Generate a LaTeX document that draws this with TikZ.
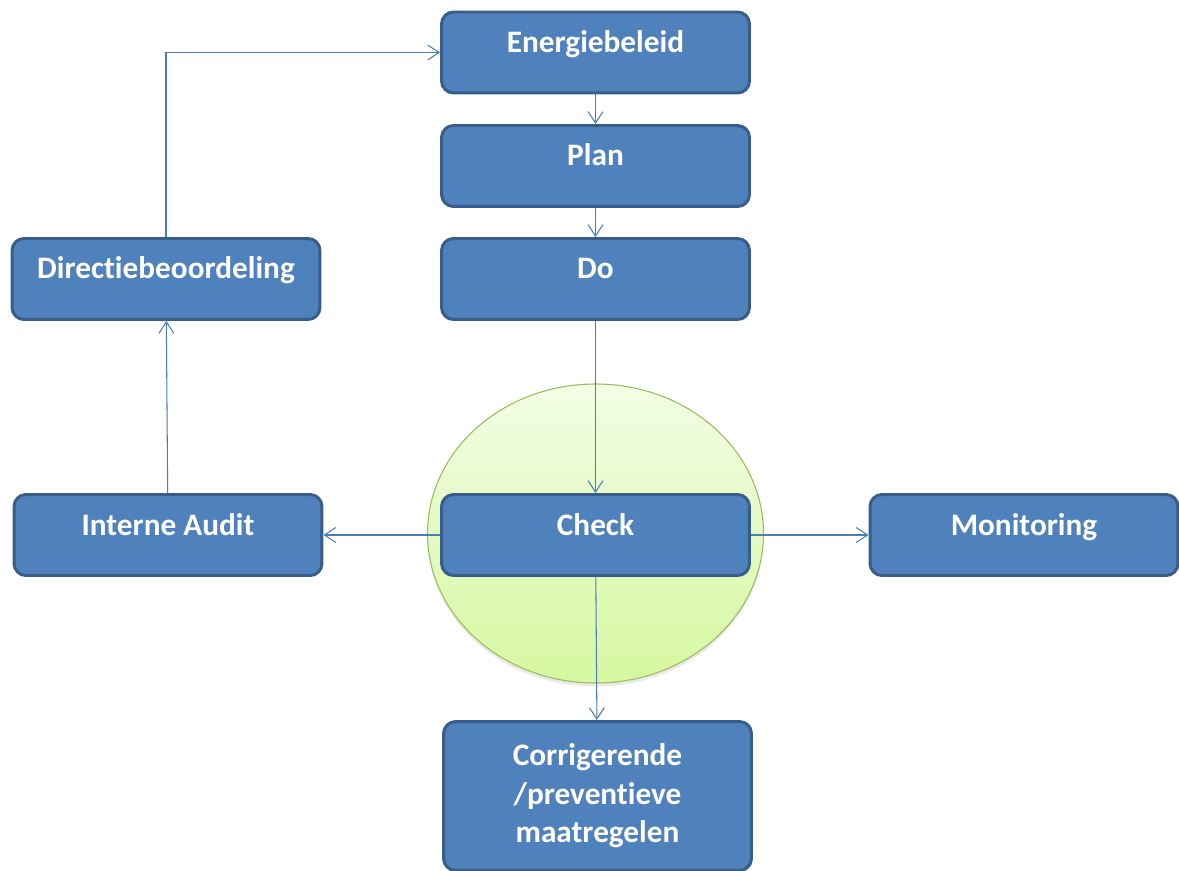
\documentclass[tikz,border=0pt]{standalone}
\usepackage{fontspec}
\setmainfont{Carlito}[Ligatures=NoCommon]
\usetikzlibrary{arrows.meta}
\definecolor{boxfill}{HTML}{4F81BD}
\definecolor{boxline}{HTML}{385D8A}
\definecolor{arrowblue}{HTML}{4A7EBB}
\definecolor{ringline}{HTML}{9BBB59}
\definecolor{ringtop}{HTML}{F3FDE6}
\definecolor{ringbottom}{HTML}{D6F8A0}
\tikzset{
	basebox/.style={rectangle, rounded corners=0.24cm, draw=boxline, fill=boxfill, line width=1.7pt, text=white, font=\bfseries\fontsize{17.8}{21.9}\selectfont, minimum width=6.16cm, inner sep=0pt},
	stepbox/.style={basebox, minimum height=1.62cm, text height=0.7em, text depth=0.7em},
	tallbox/.style={basebox, minimum height=2.98cm, align=center},
	flow/.style={draw=arrowblue, line width=0.6pt, -{Straight Barb[length=6.5pt,width=8.5pt]}}
}

\begin{document}
\begin{tikzpicture}[x=0.02cm, y=0.02cm]
			%%%%% START %%%%%
			\useasboundingbox (0, 0) rectangle (1179, -871);
			
			\fill[black!25, opacity=0.35] (595.5, -537) ellipse [x radius=168, y radius=149.5];
			\draw[ringline, line width=0.6pt, top color=ringtop, bottom color=ringbottom] (595.5, -533.5) ellipse [x radius=168, y radius=149.5];
			
			\node[stepbox] (energie) at (595.5, -52.5) {Energiebeleid};
			\node[stepbox] (plan) at (595.5, -166) {Plan};
			\node[stepbox] (do) at (595.5, -279) {Do};
			\node[stepbox] (directie) at (166, -279) {Directiebeoordeling};
			\node[stepbox] (audit) at (168, -535) {Interne Audit};
			\node[stepbox] (check) at (595.5, -535) {Check};
			\node[stepbox] (monitor) at (1024, -535) {Monitoring};
			\node[tallbox] (corr) at (597.5, -796) {Corrigerende\\/preventieve\\maatregelen};
			
			\draw[flow] (energie) -- (plan);
			\draw[flow] (plan) -- (do);
			\draw[flow] (do) -- (check);
			\draw[flow] (check) -- (corr);
			\draw[flow] (check) -- (audit);
			\draw[flow] (check) -- (monitor);
			\draw[flow] (audit) -- (directie);
			\draw[flow] (directie.north) |- (energie.west);
			
			%%%%% END %%%%%
\end{tikzpicture}
\end{document}
